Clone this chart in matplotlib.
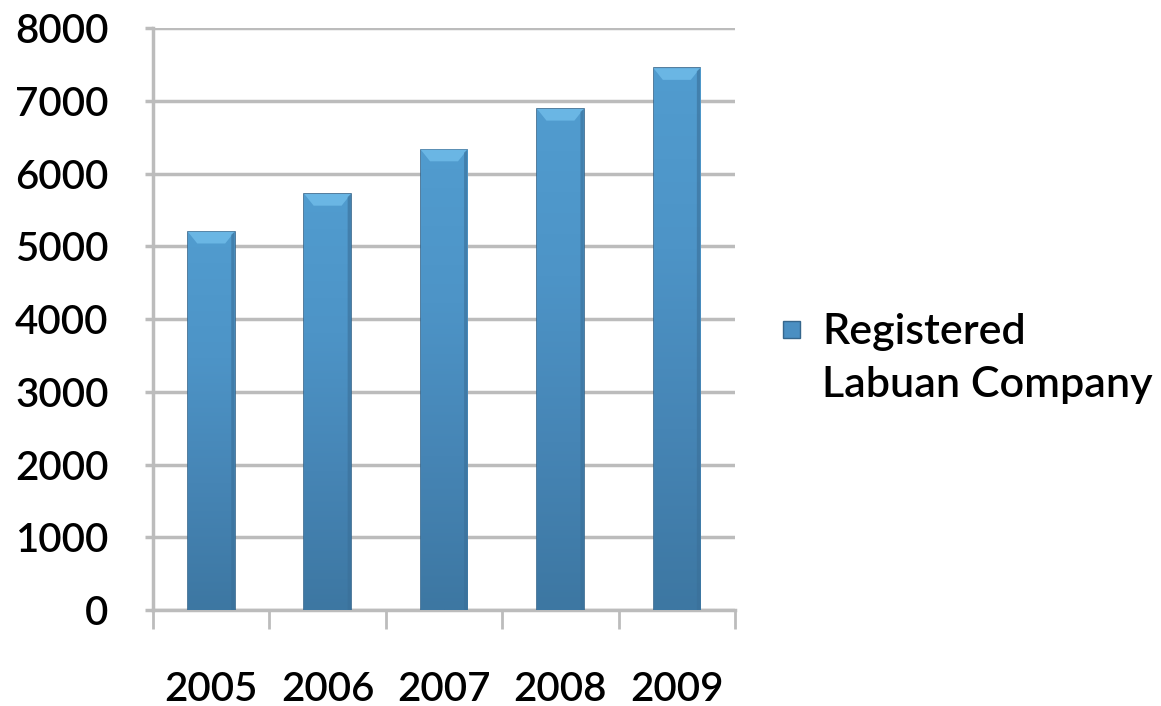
import matplotlib.pyplot as plt
import matplotlib.colors as mcolors
from matplotlib.patches import Rectangle
import numpy as np

years = ["2005", "2006", "2007", "2008", "2009"]
companies = [5200, 5720, 6330, 6890, 7450]
series_name = "Registered\nLabuan Company"

plt.rcParams['font.family'] = ['Lato', 'DejaVu Sans']
plt.rcParams['font.weight'] = 'semibold'

fig = plt.figure(figsize=(11.61, 7.06), dpi=100)
ax = fig.add_axes([0.1318, 0.136, 0.5013, 0.824])

x = np.arange(len(years))
bars = ax.bar(x, companies, width=0.4, color="#4a8fc2", edgecolor="#35668c",
              linewidth=1.2, zorder=3)

# vertical gradient inside each bar
grad = mcolors.LinearSegmentedColormap.from_list(
    "bar", ["#3d77a2", "#4685b5", "#4d94c7", "#519ccf"])
g = np.linspace(0, 1, 256).reshape(-1, 1)
for b in bars:
    x0, w, h = b.get_x(), b.get_width(), b.get_height()
    im = ax.imshow(g, cmap=grad, aspect="auto", origin="lower",
                   extent=[x0, x0 + w, 0, h], zorder=3.5)
    im.set_clip_path(b)
    # light bevel at the top
    ax.fill([x0, x0 + w, x0 + w * 0.8, x0 + w * 0.2],
            [h, h, h - 160, h - 160], color="#6ab6e4", zorder=4, lw=0)
    # darker right edge
    ax.fill([x0 + w * 0.93, x0 + w, x0 + w, x0 + w * 0.93],
            [0, 0, h, h - 40], color="#3a6f98", alpha=0.6, zorder=4, lw=0)

ax.set_xlim(-0.5, 4.5)
ax.set_ylim(0, 8000)
ax.set_yticks(np.arange(0, 8001, 1000))
ax.yaxis.grid(True, color="#bcbcbc", linewidth=2.5, zorder=0)
ax.set_axisbelow(True)

ax.set_xticks(np.arange(-0.5, 4.6, 1))
ax.set_xticklabels([])
ax.set_xticks(x, minor=True)
ax.set_xticklabels(years, minor=True)
ax.tick_params(axis="x", which="major", direction="out", length=14,
               width=2, color="#bcbcbc")
ax.tick_params(axis="x", which="minor", length=0, pad=44, labelsize=29)
ax.tick_params(axis="y", direction="out", length=6, width=2.5,
               color="#bcbcbc", pad=26, labelsize=29)

for s in ["top", "right"]:
    ax.spines[s].set_visible(False)
for s in ["left", "bottom"]:
    ax.spines[s].set_color("#bcbcbc")
    ax.spines[s].set_linewidth(2.5)

# legend
fig.patches.append(Rectangle((783 / 1161, 1 - 338 / 706), 17 / 1161, 17 / 706,
                             transform=fig.transFigure, facecolor="#4a8fc2",
                             edgecolor="#35668c", lw=1))
fig.text(822 / 1161, 1 - 313 / 706, series_name, fontsize=31, va="top",
         ha="left", linespacing=1.5)

fig.savefig("out.png", dpi=100)
